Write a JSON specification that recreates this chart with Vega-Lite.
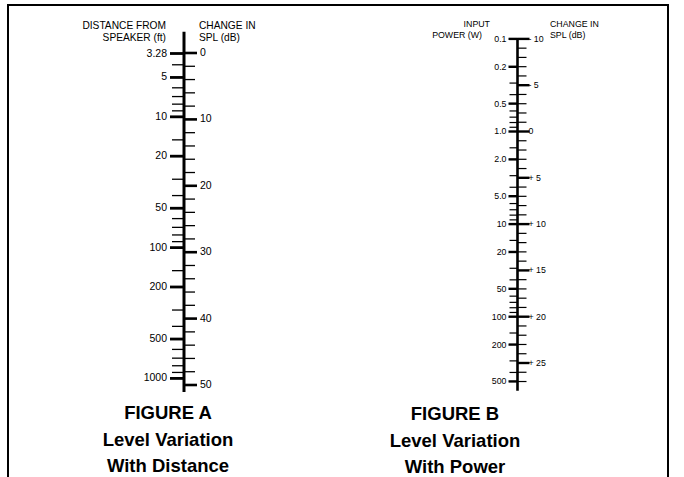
{
  "$schema": "https://vega.github.io/schema/vega-lite/v6.json",
  "width": 684,
  "height": 477,
  "autosize": {"type": "fit", "contains": "padding"},
  "padding": {"top": 5, "left": 8, "right": 16, "bottom": -3},
  "background": "white",
  "config": {
    "view": {"stroke": "black", "strokeWidth": 2},
    "axis": {"disable": true},
    "font": "Liberation Sans",
    "text": {"color": "black"}
  },
  "datasets": {
    "ticks": [
      {"fig": "A", "side": "L", "value": 3.28, "major": true, "label": "3.28"},
      {"fig": "A", "side": "L", "value": 4, "major": false},
      {"fig": "A", "side": "L", "value": 5, "major": true, "label": "5"},
      {"fig": "A", "side": "L", "value": 6, "major": false},
      {"fig": "A", "side": "L", "value": 7, "major": false},
      {"fig": "A", "side": "L", "value": 8, "major": false},
      {"fig": "A", "side": "L", "value": 9, "major": false},
      {"fig": "A", "side": "L", "value": 10, "major": true, "label": "10"},
      {"fig": "A", "side": "L", "value": 15, "major": false},
      {"fig": "A", "side": "L", "value": 20, "major": true, "label": "20"},
      {"fig": "A", "side": "L", "value": 30, "major": false},
      {"fig": "A", "side": "L", "value": 40, "major": false},
      {"fig": "A", "side": "L", "value": 50, "major": true, "label": "50"},
      {"fig": "A", "side": "L", "value": 60, "major": false},
      {"fig": "A", "side": "L", "value": 70, "major": false},
      {"fig": "A", "side": "L", "value": 80, "major": false},
      {"fig": "A", "side": "L", "value": 90, "major": false},
      {"fig": "A", "side": "L", "value": 100, "major": true, "label": "100"},
      {"fig": "A", "side": "L", "value": 150, "major": false},
      {"fig": "A", "side": "L", "value": 200, "major": true, "label": "200"},
      {"fig": "A", "side": "L", "value": 300, "major": false},
      {"fig": "A", "side": "L", "value": 400, "major": false},
      {"fig": "A", "side": "L", "value": 500, "major": true, "label": "500"},
      {"fig": "A", "side": "L", "value": 600, "major": false},
      {"fig": "A", "side": "L", "value": 700, "major": false},
      {"fig": "A", "side": "L", "value": 800, "major": false},
      {"fig": "A", "side": "L", "value": 900, "major": false},
      {"fig": "A", "side": "L", "value": 1000, "major": true, "label": "1000"},
      {"fig": "A", "side": "R", "value": 0, "major": true, "label": "0"},
      {"fig": "A", "side": "R", "value": 2, "major": false},
      {"fig": "A", "side": "R", "value": 4, "major": false},
      {"fig": "A", "side": "R", "value": 6, "major": false},
      {"fig": "A", "side": "R", "value": 8, "major": false},
      {"fig": "A", "side": "R", "value": 10, "major": true, "label": "10"},
      {"fig": "A", "side": "R", "value": 12, "major": false},
      {"fig": "A", "side": "R", "value": 14, "major": false},
      {"fig": "A", "side": "R", "value": 16, "major": false},
      {"fig": "A", "side": "R", "value": 18, "major": false},
      {"fig": "A", "side": "R", "value": 20, "major": true, "label": "20"},
      {"fig": "A", "side": "R", "value": 22, "major": false},
      {"fig": "A", "side": "R", "value": 24, "major": false},
      {"fig": "A", "side": "R", "value": 26, "major": false},
      {"fig": "A", "side": "R", "value": 28, "major": false},
      {"fig": "A", "side": "R", "value": 30, "major": true, "label": "30"},
      {"fig": "A", "side": "R", "value": 32, "major": false},
      {"fig": "A", "side": "R", "value": 34, "major": false},
      {"fig": "A", "side": "R", "value": 36, "major": false},
      {"fig": "A", "side": "R", "value": 38, "major": false},
      {"fig": "A", "side": "R", "value": 40, "major": true, "label": "40"},
      {"fig": "A", "side": "R", "value": 42, "major": false},
      {"fig": "A", "side": "R", "value": 44, "major": false},
      {"fig": "A", "side": "R", "value": 46, "major": false},
      {"fig": "A", "side": "R", "value": 48, "major": false},
      {"fig": "A", "side": "R", "value": 50, "major": true, "label": "50"},
      {"fig": "B", "side": "L", "value": 0.1, "major": true, "label": "0.1"},
      {"fig": "B", "side": "L", "value": 0.2, "major": true, "label": "0.2"},
      {"fig": "B", "side": "L", "value": 0.3, "major": false},
      {"fig": "B", "side": "L", "value": 0.4, "major": false},
      {"fig": "B", "side": "L", "value": 0.5, "major": true, "label": "0.5"},
      {"fig": "B", "side": "L", "value": 0.6, "major": false},
      {"fig": "B", "side": "L", "value": 0.7, "major": false},
      {"fig": "B", "side": "L", "value": 0.8, "major": false},
      {"fig": "B", "side": "L", "value": 0.9, "major": false},
      {"fig": "B", "side": "L", "value": 1, "major": true, "label": "1.0"},
      {"fig": "B", "side": "L", "value": 1.5, "major": false},
      {"fig": "B", "side": "L", "value": 2, "major": true, "label": "2.0"},
      {"fig": "B", "side": "L", "value": 3, "major": false},
      {"fig": "B", "side": "L", "value": 4, "major": false},
      {"fig": "B", "side": "L", "value": 5, "major": true, "label": "5.0"},
      {"fig": "B", "side": "L", "value": 6, "major": false},
      {"fig": "B", "side": "L", "value": 7, "major": false},
      {"fig": "B", "side": "L", "value": 8, "major": false},
      {"fig": "B", "side": "L", "value": 9, "major": false},
      {"fig": "B", "side": "L", "value": 10, "major": true, "label": "10"},
      {"fig": "B", "side": "L", "value": 15, "major": false},
      {"fig": "B", "side": "L", "value": 20, "major": true, "label": "20"},
      {"fig": "B", "side": "L", "value": 30, "major": false},
      {"fig": "B", "side": "L", "value": 40, "major": false},
      {"fig": "B", "side": "L", "value": 50, "major": true, "label": "50"},
      {"fig": "B", "side": "L", "value": 60, "major": false},
      {"fig": "B", "side": "L", "value": 70, "major": false},
      {"fig": "B", "side": "L", "value": 80, "major": false},
      {"fig": "B", "side": "L", "value": 90, "major": false},
      {"fig": "B", "side": "L", "value": 100, "major": true, "label": "100"},
      {"fig": "B", "side": "L", "value": 150, "major": false},
      {"fig": "B", "side": "L", "value": 200, "major": true, "label": "200"},
      {"fig": "B", "side": "L", "value": 300, "major": false},
      {"fig": "B", "side": "L", "value": 400, "major": false},
      {"fig": "B", "side": "L", "value": 500, "major": true, "label": "500"},
      {"fig": "B", "side": "R", "value": -10, "major": true, "label": "- 10"},
      {"fig": "B", "side": "R", "value": -9, "major": false},
      {"fig": "B", "side": "R", "value": -8, "major": false},
      {"fig": "B", "side": "R", "value": -7, "major": false},
      {"fig": "B", "side": "R", "value": -6, "major": false},
      {"fig": "B", "side": "R", "value": -5, "major": true, "label": "- 5"},
      {"fig": "B", "side": "R", "value": -4, "major": false},
      {"fig": "B", "side": "R", "value": -3, "major": false},
      {"fig": "B", "side": "R", "value": -2, "major": false},
      {"fig": "B", "side": "R", "value": -1, "major": false},
      {"fig": "B", "side": "R", "value": 0, "major": true, "label": "0"},
      {"fig": "B", "side": "R", "value": 1, "major": false},
      {"fig": "B", "side": "R", "value": 2, "major": false},
      {"fig": "B", "side": "R", "value": 3, "major": false},
      {"fig": "B", "side": "R", "value": 4, "major": false},
      {"fig": "B", "side": "R", "value": 5, "major": true, "label": "+ 5"},
      {"fig": "B", "side": "R", "value": 6, "major": false},
      {"fig": "B", "side": "R", "value": 7, "major": false},
      {"fig": "B", "side": "R", "value": 8, "major": false},
      {"fig": "B", "side": "R", "value": 9, "major": false},
      {"fig": "B", "side": "R", "value": 10, "major": true, "label": "+ 10"},
      {"fig": "B", "side": "R", "value": 11, "major": false},
      {"fig": "B", "side": "R", "value": 12, "major": false},
      {"fig": "B", "side": "R", "value": 13, "major": false},
      {"fig": "B", "side": "R", "value": 14, "major": false},
      {"fig": "B", "side": "R", "value": 15, "major": true, "label": "+ 15"},
      {"fig": "B", "side": "R", "value": 16, "major": false},
      {"fig": "B", "side": "R", "value": 17, "major": false},
      {"fig": "B", "side": "R", "value": 18, "major": false},
      {"fig": "B", "side": "R", "value": 19, "major": false},
      {"fig": "B", "side": "R", "value": 20, "major": true, "label": "+ 20"},
      {"fig": "B", "side": "R", "value": 21, "major": false},
      {"fig": "B", "side": "R", "value": 22, "major": false},
      {"fig": "B", "side": "R", "value": 23, "major": false},
      {"fig": "B", "side": "R", "value": 24, "major": false},
      {"fig": "B", "side": "R", "value": 25, "major": true, "label": "+ 25"},
      {"fig": "B", "side": "R", "value": 26, "major": false},
      {"fig": "B", "side": "R", "value": 27, "major": false}
    ],
    "headers": [
      {"fig": "A", "side": "L", "line": 1, "text": "DISTANCE FROM\nSPEAKER (ft)"},
      {"fig": "A", "side": "R", "line": 1, "text": "CHANGE IN\nSPL (dB)"},
      {"fig": "B", "side": "L", "line": 1, "text": "INPUT"},
      {"fig": "B", "side": "L", "line": 2, "text": "POWER (W)"},
      {"fig": "B", "side": "R", "line": 1, "text": "CHANGE IN\nSPL (dB)"}
    ],
    "captions": [
      {"fig": "A", "text": "FIGURE A\nLevel Variation\nWith Distance"},
      {"fig": "B", "text": "FIGURE B\nLevel Variation\nWith Power"}
    ],
    "spines": [
      {"fig": "A"},
      {"fig": "B"}
    ]
  },
  "resolve": {"scale": {"y": "independent"}},
  "encoding": {
    "x": {"field": "fig", "type": "nominal", "scale": {"type": "point", "domain": ["A", "B"], "padding": 0.48951, "align": 0.53905}, "axis": null}
  },
  "layer": [
    {
      "layer": [
        {"data": {"name": "ticks"}, "transform": [{"filter": "datum.fig === 'A' && datum.side === 'L' && !datum.major"}], "mark": {"type": "tick", "color": "black", "opacity": 1, "size": 12, "thickness": 1.3, "xOffset": -6},
         "encoding": {"y": {"field": "value", "type": "quantitative", "scale": {"type": "log", "domain": [1.3966, 5978.3], "reverse": true, "nice": false}, "axis": null}}},
        {"data": {"name": "ticks"}, "transform": [{"filter": "datum.fig === 'A' && datum.side === 'L' && datum.major"}], "mark": {"type": "tick", "color": "black", "opacity": 1, "size": 14, "thickness": 2.8, "xOffset": -7},
         "encoding": {"y": {"field": "value", "type": "quantitative", "scale": {"type": "log", "domain": [1.3966, 5978.3], "reverse": true, "nice": false}, "axis": null}}},
        {"data": {"name": "ticks"}, "transform": [{"filter": "datum.fig === 'A' && datum.side === 'L' && datum.major"}], "mark": {"type": "text", "align": "right", "baseline": "middle", "dx": -17, "fontSize": 10.5, "font": "Liberation Sans", "color": "black"},
         "encoding": {"y": {"field": "value", "type": "quantitative", "scale": {"type": "log", "domain": [1.3966, 5978.3], "reverse": true, "nice": false}, "axis": null}, "text": {"field": "label"}}},
        {"data": {"name": "headers"}, "transform": [{"filter": "datum.fig === 'A' && datum.side === 'L'"}], "mark": {"type": "text", "align": "right", "baseline": "alphabetic", "dx": -18, "dy": -24.2, "lineBreak": "\n", "lineHeight": 11.6, "fontSize": 10.2, "font": "Liberation Sans", "color": "black"},
         "encoding": {"y": {"datum": 3.28, "type": "quantitative", "scale": {"type": "log", "domain": [1.3966, 5978.3], "reverse": true, "nice": false}, "axis": null}, "text": {"field": "text"}}}
      ]
    },
    {
      "layer": [
        {"data": {"name": "spines"}, "transform": [{"filter": "datum.fig === 'A'"}], "mark": {"type": "rule", "color": "black", "strokeWidth": 3},
         "encoding": {"y": {"datum": -3.2, "type": "quantitative", "scale": {"type": "linear", "domain": [-7.2289, 64.3072], "reverse": true, "nice": false, "zero": false}, "axis": null}, "y2": {"datum": 51.05}}},
        {"data": {"name": "ticks"}, "transform": [{"filter": "datum.fig === 'A' && datum.side === 'R' && !datum.major"}], "mark": {"type": "tick", "color": "black", "opacity": 1, "size": 11, "thickness": 1.3, "xOffset": 5.5},
         "encoding": {"y": {"field": "value", "type": "quantitative", "scale": {"type": "linear", "domain": [-7.2289, 64.3072], "reverse": true, "nice": false, "zero": false}, "axis": null}}},
        {"data": {"name": "ticks"}, "transform": [{"filter": "datum.fig === 'A' && datum.side === 'R' && datum.major"}], "mark": {"type": "tick", "color": "black", "opacity": 1, "size": 13, "thickness": 2.6, "xOffset": 6.5},
         "encoding": {"y": {"field": "value", "type": "quantitative", "scale": {"type": "linear", "domain": [-7.2289, 64.3072], "reverse": true, "nice": false, "zero": false}, "axis": null}}},
        {"data": {"name": "ticks"}, "transform": [{"filter": "datum.fig === 'A' && datum.side === 'R' && datum.major"}], "mark": {"type": "text", "align": "left", "baseline": "middle", "dx": 16, "fontSize": 10.5, "font": "Liberation Sans", "color": "black"},
         "encoding": {"y": {"field": "value", "type": "quantitative", "scale": {"type": "linear", "domain": [-7.2289, 64.3072], "reverse": true, "nice": false, "zero": false}, "axis": null}, "text": {"field": "label"}}},
        {"data": {"name": "headers"}, "transform": [{"filter": "datum.fig === 'A' && datum.side === 'R'"}], "mark": {"type": "text", "align": "left", "baseline": "alphabetic", "dx": 15, "dy": -23.7, "lineBreak": "\n", "lineHeight": 11.6, "fontSize": 10.2, "font": "Liberation Sans", "color": "black"},
         "encoding": {"y": {"datum": 0, "type": "quantitative", "scale": {"type": "linear", "domain": [-7.2289, 64.3072], "reverse": true, "nice": false, "zero": false}, "axis": null}, "text": {"field": "text"}}},
        {"data": {"name": "captions"}, "transform": [{"filter": "datum.fig === 'A'"}], "mark": {"type": "text", "align": "center", "baseline": "alphabetic", "dx": -16, "dy": 34, "lineBreak": "\n", "lineHeight": 26.5, "fontSize": 18.5, "fontWeight": "bold", "font": "Liberation Sans", "color": "black"},
         "encoding": {"y": {"datum": 50, "type": "quantitative", "scale": {"type": "linear", "domain": [-7.2289, 64.3072], "reverse": true, "nice": false, "zero": false}, "axis": null}, "text": {"field": "text"}}}
      ]
    },
    {
      "layer": [
        {"data": {"name": "ticks"}, "transform": [{"filter": "datum.fig === 'B' && datum.side === 'L' && !datum.major"}], "mark": {"type": "tick", "color": "black", "opacity": 1, "size": 8, "thickness": 1.2, "xOffset": -4},
         "encoding": {"y": {"field": "value", "type": "quantitative", "scale": {"type": "log", "domain": [0.043044, 5800.9], "reverse": true, "nice": false}, "axis": null}}},
        {"data": {"name": "ticks"}, "transform": [{"filter": "datum.fig === 'B' && datum.side === 'L' && datum.major"}], "mark": {"type": "tick", "color": "black", "opacity": 1, "size": 9, "thickness": 2.4, "xOffset": -4.5},
         "encoding": {"y": {"field": "value", "type": "quantitative", "scale": {"type": "log", "domain": [0.043044, 5800.9], "reverse": true, "nice": false}, "axis": null}}},
        {"data": {"name": "ticks"}, "transform": [{"filter": "datum.fig === 'B' && datum.side === 'L' && datum.major"}], "mark": {"type": "text", "align": "right", "baseline": "middle", "dx": -11, "fontSize": 8.8, "font": "Liberation Sans", "color": "black"},
         "encoding": {"y": {"field": "value", "type": "quantitative", "scale": {"type": "log", "domain": [0.043044, 5800.9], "reverse": true, "nice": false}, "axis": null}, "text": {"field": "label"}}},
        {"data": {"name": "headers"}, "transform": [{"filter": "datum.fig === 'B' && datum.side === 'L' && datum.line === 1"}], "mark": {"type": "text", "align": "right", "baseline": "alphabetic", "dx": -27.5, "dy": -12.2, "fontSize": 8.8, "font": "Liberation Sans", "color": "black"},
         "encoding": {"y": {"datum": 0.1, "type": "quantitative", "scale": {"type": "log", "domain": [0.043044, 5800.9], "reverse": true, "nice": false}, "axis": null}, "text": {"field": "text"}}},
        {"data": {"name": "headers"}, "transform": [{"filter": "datum.fig === 'B' && datum.side === 'L' && datum.line === 2"}], "mark": {"type": "text", "align": "right", "baseline": "alphabetic", "dx": -35.5, "dy": -0.6, "fontSize": 8.8, "font": "Liberation Sans", "color": "black"},
         "encoding": {"y": {"datum": 0.1, "type": "quantitative", "scale": {"type": "log", "domain": [0.043044, 5800.9], "reverse": true, "nice": false}, "axis": null}, "text": {"field": "text"}}},
        {"data": {"name": "captions"}, "transform": [{"filter": "datum.fig === 'B'"}], "mark": {"type": "text", "align": "center", "baseline": "alphabetic", "dx": -62.5, "dy": 39, "lineBreak": "\n", "lineHeight": 26.5, "fontSize": 18.5, "fontWeight": "bold", "font": "Liberation Sans", "color": "black"},
         "encoding": {"y": {"datum": 500, "type": "quantitative", "scale": {"type": "log", "domain": [0.043044, 5800.9], "reverse": true, "nice": false}, "axis": null}, "text": {"field": "text"}}}
      ]
    },
    {
      "layer": [
        {"data": {"name": "spines"}, "transform": [{"filter": "datum.fig === 'B'"}], "mark": {"type": "rule", "color": "black", "strokeWidth": 2.6},
         "encoding": {"y": {"datum": -10.1, "type": "quantitative", "scale": {"type": "linear", "domain": [-13.6609, 37.635], "reverse": true, "nice": false, "zero": false}, "axis": null}, "y2": {"datum": 28}}},
        {"data": {"name": "ticks"}, "transform": [{"filter": "datum.fig === 'B' && datum.side === 'R' && !datum.major"}], "mark": {"type": "tick", "color": "black", "opacity": 1, "size": 9, "thickness": 1.2, "xOffset": 4.5},
         "encoding": {"y": {"field": "value", "type": "quantitative", "scale": {"type": "linear", "domain": [-13.6609, 37.635], "reverse": true, "nice": false, "zero": false}, "axis": null}}},
        {"data": {"name": "ticks"}, "transform": [{"filter": "datum.fig === 'B' && datum.side === 'R' && datum.major"}], "mark": {"type": "tick", "color": "black", "opacity": 1, "size": 12, "thickness": 2.4, "xOffset": 6},
         "encoding": {"y": {"field": "value", "type": "quantitative", "scale": {"type": "linear", "domain": [-13.6609, 37.635], "reverse": true, "nice": false, "zero": false}, "axis": null}}},
        {"data": {"name": "ticks"}, "transform": [{"filter": "datum.fig === 'B' && datum.side === 'R' && datum.major"}], "mark": {"type": "text", "align": "left", "baseline": "middle", "dx": 11, "fontSize": 8.8, "font": "Liberation Sans", "color": "black"},
         "encoding": {"y": {"field": "value", "type": "quantitative", "scale": {"type": "linear", "domain": [-13.6609, 37.635], "reverse": true, "nice": false, "zero": false}, "axis": null}, "text": {"field": "label"}}},
        {"data": {"name": "headers"}, "transform": [{"filter": "datum.fig === 'B' && datum.side === 'R'"}], "mark": {"type": "text", "align": "left", "baseline": "alphabetic", "dx": 32.5, "dy": -12.2, "lineBreak": "\n", "lineHeight": 11.6, "fontSize": 8.8, "font": "Liberation Sans", "color": "black"},
         "encoding": {"y": {"datum": -10, "type": "quantitative", "scale": {"type": "linear", "domain": [-13.6609, 37.635], "reverse": true, "nice": false, "zero": false}, "axis": null}, "text": {"field": "text"}}}
      ]
    }
  ]
}
